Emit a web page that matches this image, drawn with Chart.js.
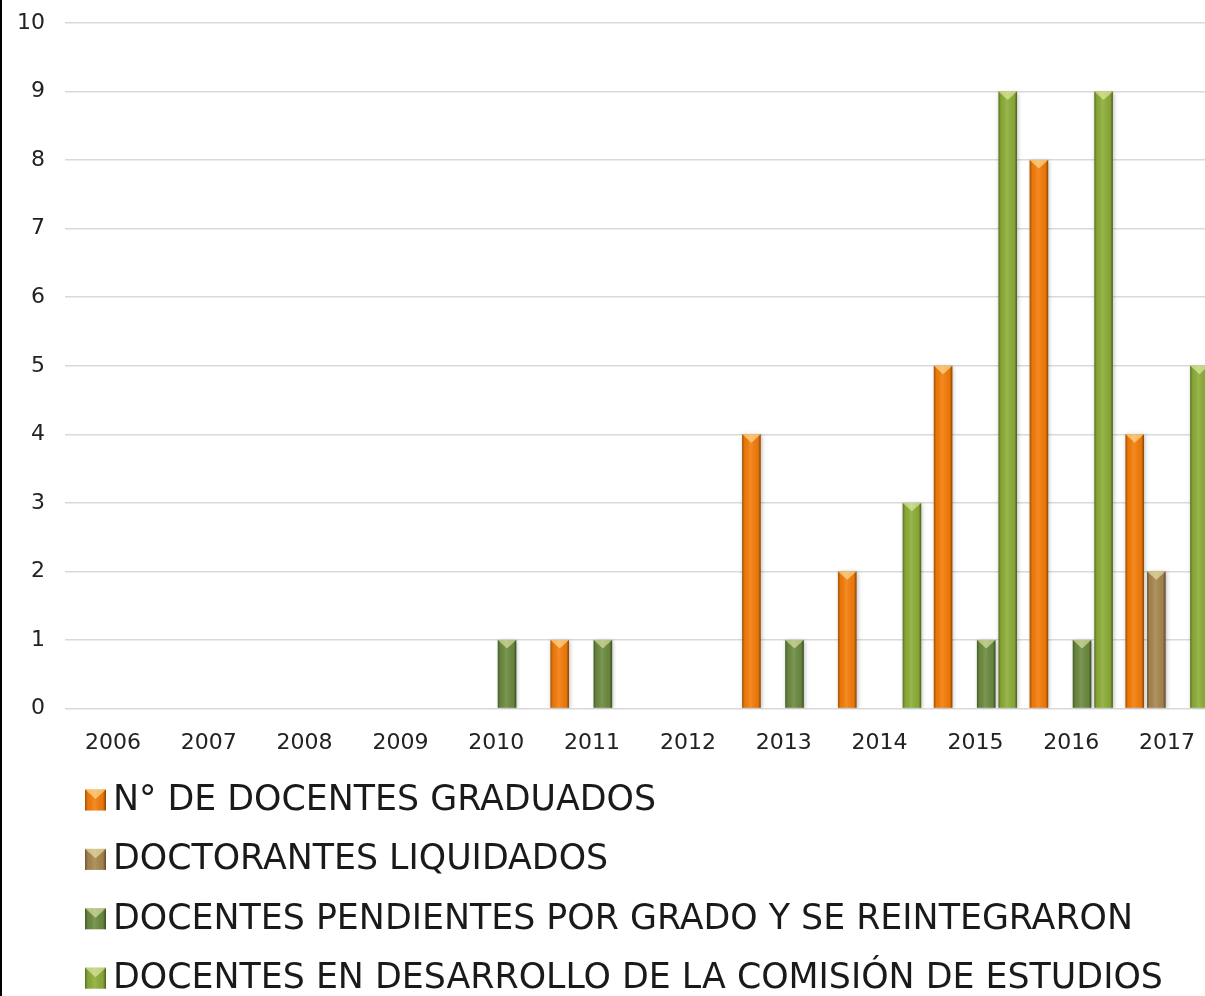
<!DOCTYPE html>
<html>
<head>
<meta charset="utf-8">
<script src="https://cdn.jsdelivr.net/npm/chart.js@4.4.1/dist/chart.umd.min.js"></script>
<style>
  html, body { margin: 0; padding: 0; background: #fff; overflow: hidden; }
  #wrap { position: absolute; left: 0; top: 0; width: 1213px; height: 996px; border-left: 2px solid #000; }
  canvas { display: block; }
</style>
</head>
<body>
<div id="wrap"><canvas id="c" width="1213" height="996"></canvas></div>
<script>
const categories = ['2006','2007','2008','2009','2010','2011','2012','2013','2014','2015','2016','2017'];
const graduados   = [0,0,0,0,0,1,0,4,2,5,8,4];
const liquidados  = [0,0,0,0,0,0,0,0,0,0,0,2];
const pendientes  = [0,0,0,0,1,1,0,1,0,1,1,0];
const desarrollo  = [0,0,0,0,0,0,0,0,3,9,9,5];
const seriesNames = [
  'N° DE DOCENTES GRADUADOS',
  'DOCTORANTES LIQUIDADOS',
  'DOCENTES PENDIENTES POR GRADO Y SE REINTEGRARON',
  'DOCENTES EN DESARROLLO DE LA COMISIÓN DE ESTUDIOS'
];
const yTicks = [0,1,2,3,4,5,6,7,8,9,10];

const colors = ['#F57D0A', '#A8874F', '#6C8B40', '#8DAE38'];
const FONT = '"DejaVu Sans", sans-serif';

function bevel(ctx, left, top, w, h) {
  const g = ctx.createLinearGradient(left, 0, left + w, 0);
  g.addColorStop(0, 'rgba(0,0,0,0.35)');
  g.addColorStop(0.14, 'rgba(0,0,0,0.05)');
  g.addColorStop(0.45, 'rgba(255,255,255,0.10)');
  g.addColorStop(0.85, 'rgba(0,0,0,0.05)');
  g.addColorStop(1, 'rgba(0,0,0,0.45)');
  ctx.fillStyle = g;
  ctx.fillRect(left, top, w, h);
  const th = Math.min(w * 0.45, h);
  ctx.beginPath();
  ctx.moveTo(left, top);
  ctx.lineTo(left + w, top);
  ctx.lineTo(left + w / 2, top + th);
  ctx.closePath();
  ctx.fillStyle = 'rgba(255,255,200,0.5)';
  ctx.fill();
}

const barBevelPlugin = {
  id: 'barBevel',
  beforeDatasetsDraw(chart) {
    const ctx = chart.ctx;
    ctx.save();
    ctx.shadowColor = 'rgba(0,0,0,0.25)';
    ctx.shadowBlur = 4;
    ctx.shadowOffsetX = 1;
    ctx.shadowOffsetY = 1;
  },
  afterDatasetsDraw(chart) {
    const ctx = chart.ctx;
    ctx.restore();
    ctx.save();
    chart.getSortedVisibleDatasetMetas().forEach(meta => {
      meta.data.forEach(el => {
        const p = el.getProps(['x', 'y', 'base', 'width'], true);
        const h = p.base - p.y;
        if (h < 1) return;
        bevel(ctx, p.x - p.width / 2, p.y, p.width, h);
      });
    });
    ctx.restore();
  }
};

const legendPlugin = {
  id: 'stackLegend',
  afterDraw(chart) {
    const ctx = chart.ctx;
    ctx.save();
    const x0 = 83, y0 = 800, step = 59.4, box = 21;
    ctx.font = '34.8px ' + FONT;
    ctx.textBaseline = 'middle';
    ctx.textAlign = 'left';
    chart.data.datasets.forEach((ds, i) => {
      const cy = y0 + i * step;
      ctx.fillStyle = ds.backgroundColor;
      ctx.fillRect(x0, cy - box / 2, box, box);
      bevel(ctx, x0, cy - box / 2, box, box);
      ctx.fillStyle = '#1a1a1a';
      ctx.fillText(ds.label, x0 + 28, cy + 1);
    });
    ctx.restore();
  }
};

new Chart(document.getElementById('c'), {
  type: 'bar',
  data: {
    labels: categories,
    datasets: [
      { label: seriesNames[0], data: graduados,  backgroundColor: colors[0] },
      { label: seriesNames[1], data: liquidados, backgroundColor: colors[1] },
      { label: seriesNames[2], data: pendientes, backgroundColor: colors[2] },
      { label: seriesNames[3], data: desarrollo, backgroundColor: colors[3] }
    ]
  },
  options: {
    responsive: false,
    animation: false,
    devicePixelRatio: 1,
    categoryPercentage: 0.9,
    barPercentage: 0.86,
    layout: { padding: { top: 23, right: 0, bottom: 227, left: 0 } },
    plugins: {
      legend: { display: false },
      tooltip: { enabled: false }
    },
    scales: {
      x: {
        grid: { display: false },
        border: { display: true, color: '#D9D9D9', width: 1 },
        ticks: { font: { family: FONT, size: 22 }, color: '#222', padding: 13 }
      },
      y: {
        min: 0, max: 10,
        afterFit(scale) { scale.width = 63; scale.paddingTop = 0; scale.paddingBottom = 0; },
        afterBuildTicks(scale) { scale.ticks = yTicks.map(v => ({ value: v })); },
        grid: { color: '#D9D9D9', lineWidth: 1.5, drawTicks: false },
        border: { display: false },
        ticks: { font: { family: FONT, size: 22 }, color: '#222', padding: 20 }
      }
    }
  },
  plugins: [barBevelPlugin, legendPlugin]
});
</script>
</body>
</html>
